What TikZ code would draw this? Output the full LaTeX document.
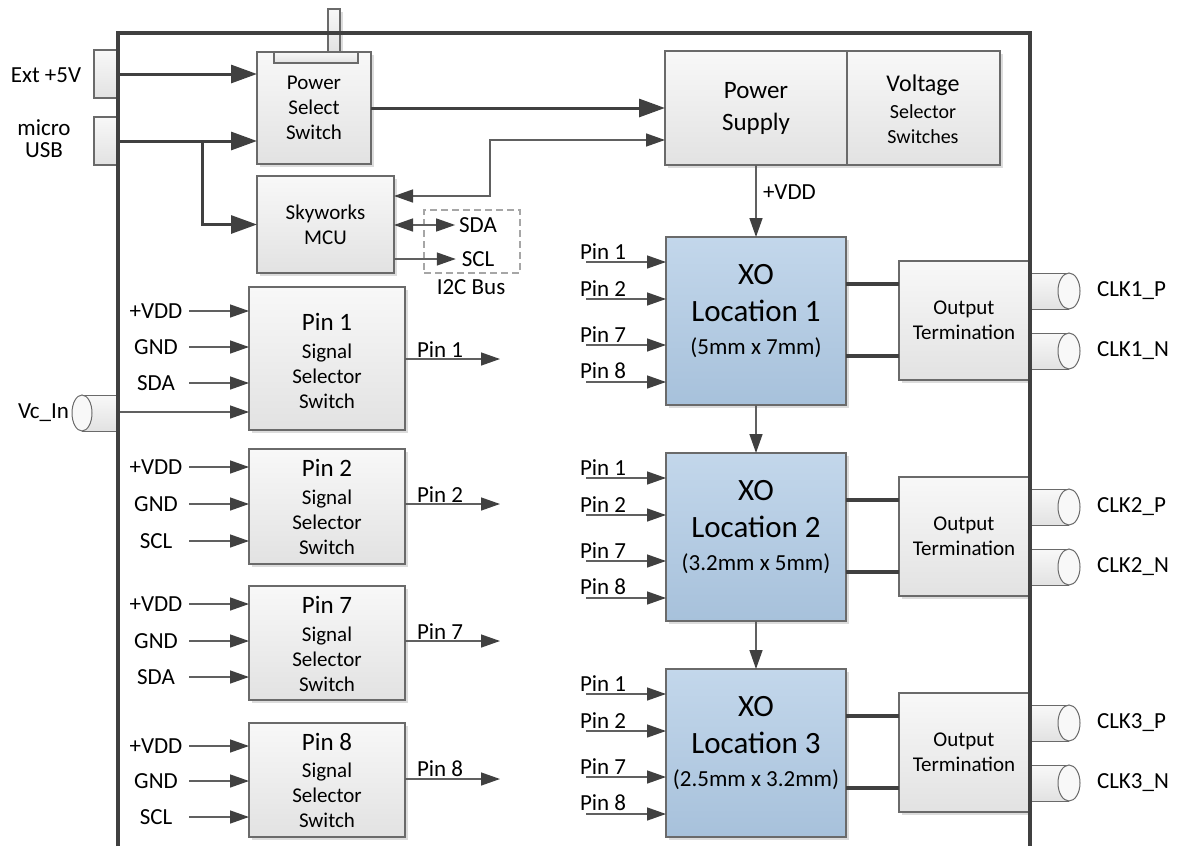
\documentclass[tikz,border=0pt]{standalone}
\usepackage{fontspec}
\setmainfont{Carlito}
\usetikzlibrary{arrows.meta,shadows,calc}
\definecolor{linec}{HTML}{606060}
\definecolor{darkc}{HTML}{404040}
\definecolor{bordc}{HTML}{6A6A6A}
\definecolor{boxtop}{HTML}{F8F8F8}
\definecolor{boxbot}{HTML}{E2E2E2}
\definecolor{xotop}{HTML}{C3D7EB}
\definecolor{xobot}{HTML}{A7C1DB}
\definecolor{dashc}{HTML}{A6A6A6}
\newcommand{\fsz}[2]{\fontsize{#1}{#2}\selectfont}
\begin{document}
\begin{tikzpicture}[x=1pt,y=-1pt,
  plainbox/.style={draw=bordc, line width=1.2pt, top color=boxtop, bottom color=boxbot, outer sep=0pt, inner sep=0pt},
  blk/.style={plainbox, drop shadow={shadow xshift=3pt,shadow yshift=-3pt,fill=black!30,opacity=.45}},
  xo/.style={blk, top color=xotop, bottom color=xobot},
  lab/.style={inner sep=0pt, outer sep=0pt, font=\fsz{23}{27}},
  thinarr/.style={draw=linec, line width=1.4pt, -{Triangle[length=19pt,width=13pt,color=darkc]}},
  biarr/.style={draw=linec, line width=1.4pt, {Triangle[length=19pt,width=13pt,color=darkc]}-{Triangle[length=19pt,width=13pt,color=darkc]}},
  thickarr/.style={draw=darkc, line width=3pt, -{Triangle[length=26pt,width=18pt,color=darkc]}},
  thickline/.style={draw=darkc, line width=4pt},
  cylfill/.style={top color=boxtop, bottom color=boxbot},
  cylline/.style={draw=bordc, line width=1pt}
]
\useasboundingbox (0,0) rectangle (1177,846);

% ---------- power section ----------
\node[blk, minimum width=12pt, minimum height=43pt] (stub) at (334,30.5) {};
\node[blk, minimum width=114pt, minimum height=112pt, align=center, font=\fsz{21}{25}] (pss) at (314,108) {Power\\Select\\Switch};
\node[plainbox, minimum width=84pt, minimum height=11pt] (bar) at (316,57.5) {};

\node[plainbox, minimum width=23pt, minimum height=48pt] (ext) at (105.5,74) {};
\node[plainbox, minimum width=23pt, minimum height=48pt] (usb) at (105.5,141) {};
\node[lab] (extl) at (46,75) {Ext +5V};
\node[lab, align=center, font=\fsz{23}{22}] (usbl) at (44,139) {micro\\USB};

\node[blk, minimum width=137pt, minimum height=97pt, align=center, font=\fsz{21}{25}] (mcu) at (325.5,224.5) {Skyworks\\MCU};

\node[blk, minimum width=182pt, minimum height=114pt, align=center, font=\fsz{25}{32}] (psup) at (756,108) {Power\\Supply};
\node[blk, minimum width=153pt, minimum height=114pt] (volt) at (923.5,108) {};
\node[lab, font=\fsz{24}{28}] (voltt) at (923,85) {Voltage};
\node[lab, align=center, font=\fsz{20}{25}] (volts) at (923,124.5) {Selector\\Switches};

\draw[thickarr] (ext.east) -- (ext.east -| pss.west);
\draw[thickarr] (usb.east) -- (usb.east -| pss.west);
\coordinate (br) at (202,141);
\draw[thickarr] (br) |- (mcu.west);
\draw[thickarr] (pss.east) -- (pss.east -| psup.west);
\coordinate (bend) at (490,140);
\draw[biarr] (mcu.east |- 0,196) -| (bend) -- (bend -| psup.west);

% ---------- I2C ----------
\node[draw=dashc, line width=1.6pt, dash pattern=on 7pt off 4pt, minimum width=96pt, minimum height=63pt, inner sep=0pt] (i2c) at (472,241.5) {};
\node[lab] (sda) at (478,225) {SDA};
\node[lab] (scl) at (478,259) {SCL};
\node[lab] (i2cl) at (471,287) {I2C Bus};
\draw[biarr] (mcu.east |- sda.west) -- ([xshift=-4pt]sda.west);
\draw[thinarr] (mcu.east |- scl.west) -- ([xshift=-6pt]scl.west);

% ---------- XO locations ----------
\foreach \k/\s in {1/{(5mm x 7mm)},2/{(3.2mm x 5mm)},3/{(2.5mm x 3.2mm)}}{
  \pgfmathsetmacro{\T}{237+216*(\k-1)}
  \node[xo, minimum width=180pt, minimum height=168pt] (xo\k) at (756,\T+84) {};
  \node[lab, font=\fsz{31}{37}, align=center] (xot\k) at (756,\T+56.5) {XO\\Location \k};
  \node[lab] (xos\k) at (756,\T+111) {\s};
  \foreach \p/\dy in {1/25,2/62,7/108,8/145}{
    \coordinate (xi\k\p) at (586,\T+\dy);
    \draw[thinarr] (xi\k\p) -- (xi\k\p -| xo\k.west);
    \node[lab, anchor=south west] (xil\k\p) at (580,\T+\dy-3) {Pin \p};
  }
  \node[blk, minimum width=130pt, minimum height=119pt, align=center, font=\fsz{21}{25}] (ot\k) at (964,\T+83.5) {Output\\Termination};
  \draw[thickline] (xo\k.east |- 0,\T+47) -- (ot\k.west |- 0,\T+47);
  \draw[thickline] (xo\k.east |- 0,\T+119) -- (ot\k.west |- 0,\T+119);
  \foreach \nm/\dy in {P/54,N/114}{
    \fill[cylfill] (1030,\T+\dy-18) rectangle (1069,\T+\dy+18);
    \draw[cylline] (1030,\T+\dy-18) -- (1069,\T+\dy-18) (1030,\T+\dy+18) -- (1069,\T+\dy+18);
    \draw[cylline, fill=boxtop] (1069,\T+\dy) ellipse [x radius=11pt, y radius=18pt];
    \node[lab, anchor=west] (clk\k\nm) at (1097,\T+\dy) {CLK\k\_\nm};
  }
}
\draw[thinarr] (psup.south) -- (xo1.north);
\node[lab, anchor=west] (vddl) at (763,192) {+VDD};
\draw[thinarr] (xo1.south) -- (xo2.north);
\draw[thinarr] (xo2.south) -- (xo3.north);

% ---------- pin selector switches ----------
\foreach \n/\top/\h/\ttl/\bdy/\out/\ya/\yb/\yc/\third in
  {1/287/143/322/376/359/311/347/383/SDA,
   2/449/115/468/522/504/467/504/541/SCL,
   7/586/114/605/659/641/604/641/677/SDA,
   8/723/114/742/795/779/746/781/817/SCL}{
  \node[blk, minimum width=156pt, minimum height=\h pt] (pb\n) at (327,\top+\h/2) {};
  \node[lab, font=\fsz{25}{28}] (pbt\n) at (327,\ttl) {Pin \n};
  \node[lab, font=\fsz{21}{25}, align=center] (pbb\n) at (327,\bdy) {Signal\\Selector\\Switch};
  \foreach \y/\t [count=\i] in {\ya/+VDD,\yb/GND,\yc/\third}{
    \node[lab] (pl\n\i) at (156,\y) {\t};
    \coordinate (ps\n\i) at (189,\y);
    \draw[thinarr] (ps\n\i) -- (ps\n\i -| pb\n.west);
  }
  \coordinate (po\n) at (500,\out);
  \draw[thinarr] (pb\n.east |- po\n) -- (po\n);
  \node[lab, anchor=south west] (pol\n) at (417,\out-2) {Pin \n};
}

% ---------- Vc_In ----------
\fill[cylfill] (82,395) rectangle (118,431);
\draw[cylline] (82,395) -- (118,395) (82,431) -- (118,431);
\draw[cylline, fill=boxtop] (82,413) ellipse [x radius=10pt, y radius=18pt];
\node[lab, anchor=east] (vcl) at (69,413) {Vc\_In};
\coordinate (vcin) at (118,412);
\draw[thinarr] (vcin) -- (vcin -| pb1.west);

% ---------- enclosure ----------
\draw[darkc, line width=4pt] (118,846) -- (118,33) -- (1030,33) -- (1030,846);
\end{tikzpicture}
\end{document}
